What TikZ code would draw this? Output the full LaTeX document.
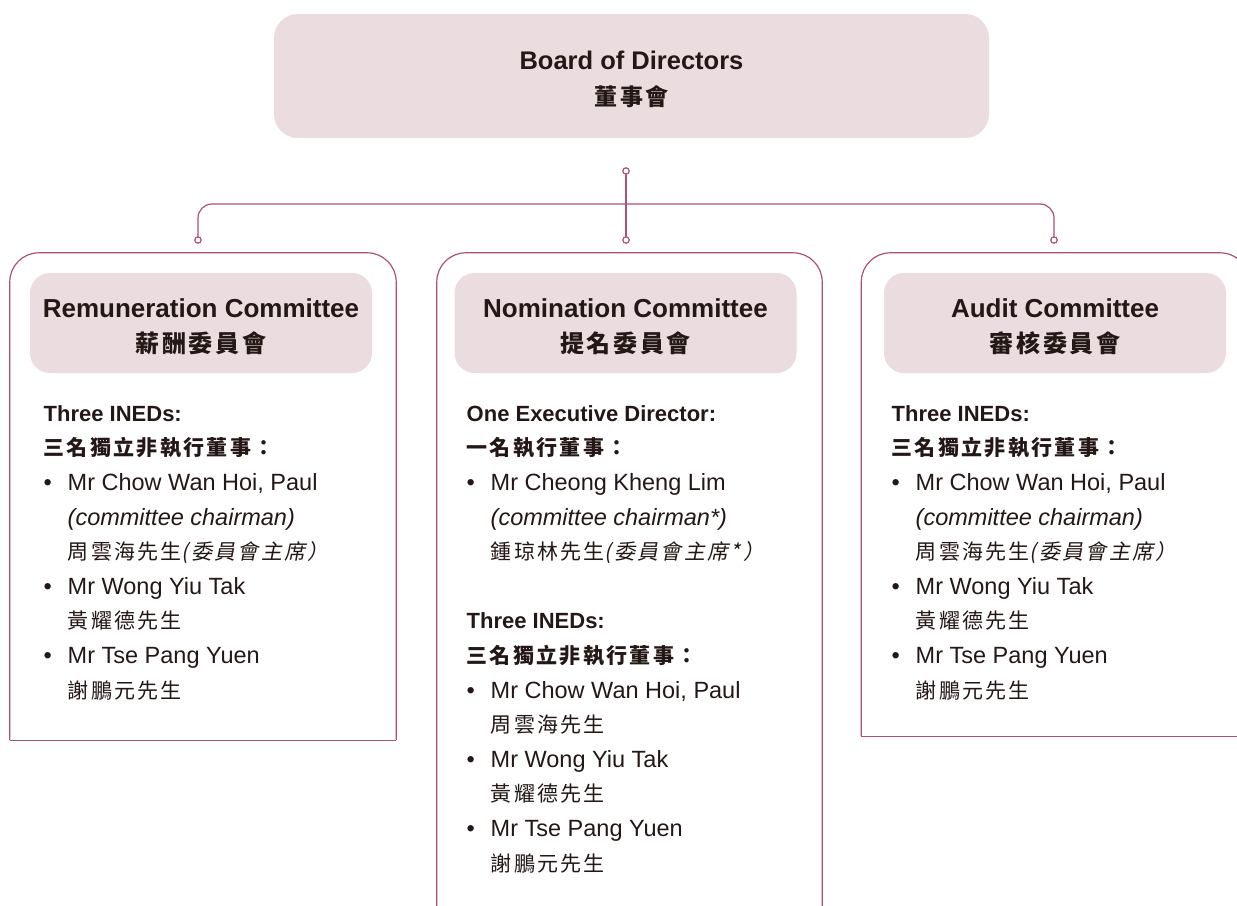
\documentclass[tikz,border=0pt]{standalone}
\usepackage{fontspec}
\setmainfont{Liberation Sans}
\newfontfamily\cjk[LetterSpace=11]{Noto Sans CJK TC}
\newfontfamily\cjksl[LetterSpace=11,FakeSlant=0.2]{Noto Sans CJK TC}

\definecolor{rose}{RGB}{172,80,120}
\definecolor{blush}{RGB}{235,220,224}
\definecolor{ink}{RGB}{35,24,21}

\newcommand{\zh}[1]{{\fontsize{21}{34.6}\selectfont\cjk #1}}
\newcommand{\zhb}[1]{{\fontsize{21}{34.6}\selectfont\cjk\bfseries #1}}
\newcommand{\zhsl}[1]{{\fontsize{21}{34.6}\selectfont\cjksl #1}}
\newcommand{\hd}[1]{{\fontsize{22}{34.6}\selectfont\bfseries #1}}
\newcommand{\itm}[1]{\makebox[24pt][l]{\textbullet}#1}
\newcommand{\cont}[1]{\hspace*{24pt}#1}

\begin{document}
\begin{tikzpicture}[x=1pt, y=-1pt,
  every node/.style={text=ink},
  box/.style={fill=blush, rounded corners=24pt},
  head/.style={fill=blush, rounded corners=20pt, minimum width=342pt, minimum height=100pt},
  title/.style={align=center, font=\fontsize{26}{35}\selectfont\bfseries},
  panel/.style={draw=rose, line width=1.2pt},
  link/.style={draw=rose, line width=1.2pt},
  body/.style={anchor=base west, inner sep=0pt, align=left, font=\fontsize{23.5}{34.6}\selectfont}]
\useasboundingbox (0,0) rectangle (1237,905);
\clip (0,0) rectangle (1237,905);

% board
\node[box, minimum width=715pt, minimum height=124pt] (board) at (631.5,76) {};
\node[title, font=\fontsize{25.5}{36}\selectfont\bfseries] (boardTitle) at ([yshift=-3.5pt]board.center)
  {Board of Directors\\{\fontsize{23}{36}\selectfont\cjk 董事會}};

% panels
\node[minimum width=386pt, minimum height=487pt, inner sep=0pt] (remPanel) at (203,496.5) {};
\node[minimum width=385pt, minimum height=677pt, inner sep=0pt] (nomPanel) at (629.5,591.5) {};
\node[minimum width=387.5pt, minimum height=483pt, inner sep=0pt] (audPanel) at (1055.25,494.5) {};
\foreach \p in {remPanel,nomPanel,audPanel} {
  \draw[panel, rounded corners=29pt] (\p.south west) |- (\p.north) -| (\p.south east);
  \draw[panel] (\p.south west) -- (\p.south east);
}

% committee headers
\node[head] (remHead) at (201,323) {};
\node[head] (nomHead) at (625.5,323) {};
\node[head] (audHead) at (1055,323) {};
\node[title] (remTitle) at ([yshift=-3.5pt]remHead.center) {Remuneration Committee\\{\fontsize{24}{35}\selectfont\cjk 薪酬委員會}};
\node[title] (nomTitle) at ([yshift=-3.5pt]nomHead.center) {Nomination Committee\\{\fontsize{24}{35}\selectfont\cjk 提名委員會}};
\node[title] (audTitle) at ([yshift=-3.5pt]audHead.center) {Audit Committee\\{\fontsize{24}{35}\selectfont\cjk 審核委員會}};

% connectors
\coordinate (hub) at (626,171);
\coordinate (remTop) at (198,240);
\coordinate (nomTop) at (626,240);
\coordinate (audTop) at (1054,240);
\draw[link, rounded corners=14pt] (remTop) |- (626,204) -| (audTop);
\draw[link] (hub) -- (nomTop);
\foreach \c in {hub,remTop,nomTop,audTop}
    \draw[link, fill=white] (\c) circle [radius=3.2pt];

% members (anchored on the last line)
\node[body] (remBody) at (43.5,698) {%
  \hd{Three INEDs:}\\
  \zhb{三名獨立非執行董事：}\\
  \itm{Mr Chow Wan Hoi, Paul}\\
  \cont{\textit{(committee chairman)}}\\
  \cont{\zh{周雲海先生}\zhsl{(委員會主席）}}\\
  \itm{Mr Wong Yiu Tak}\\
  \cont{\zh{黃耀德先生}}\\
  \itm{Mr Tse Pang Yuen}\\
  \cont{\zh{謝鵬元先生}}};
\node[body] (nomBody) at (466.5,871) {%
  \hd{One Executive Director:}\\
  \zhb{一名執行董事：}\\
  \itm{Mr Cheong Kheng Lim}\\
  \cont{\textit{(committee chairman*)}}\\
  \cont{\zh{鍾琼林先生}\zhsl{(委員會主席*）}}\\[34.6pt]
  \hd{Three INEDs:}\\
  \zhb{三名獨立非執行董事：}\\
  \itm{Mr Chow Wan Hoi, Paul}\\
  \cont{\zh{周雲海先生}}\\
  \itm{Mr Wong Yiu Tak}\\
  \cont{\zh{黃耀德先生}}\\
  \itm{Mr Tse Pang Yuen}\\
  \cont{\zh{謝鵬元先生}}};
\node[body] (audBody) at (891.5,698) {%
  \hd{Three INEDs:}\\
  \zhb{三名獨立非執行董事：}\\
  \itm{Mr Chow Wan Hoi, Paul}\\
  \cont{\textit{(committee chairman)}}\\
  \cont{\zh{周雲海先生}\zhsl{(委員會主席）}}\\
  \itm{Mr Wong Yiu Tak}\\
  \cont{\zh{黃耀德先生}}\\
  \itm{Mr Tse Pang Yuen}\\
  \cont{\zh{謝鵬元先生}}};
\end{tikzpicture}
\end{document}
